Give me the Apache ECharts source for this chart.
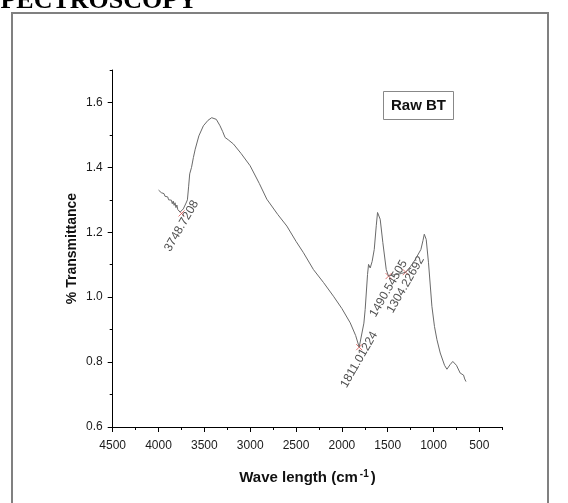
<!DOCTYPE html>
<html>
<head>
<meta charset="utf-8">
<script src="https://cdn.jsdelivr.net/npm/echarts@6/dist/echarts.min.js"></script>
<style>html,body{margin:0;padding:0;background:#fff;}#c{width:568px;height:503px;}</style>
</head>
<body>
<div id="c"></div>
<script>
const wavenumbers = [4000,3990,3980,3970,3960,3950,3940,3930,3920,3910,3900,3890,3880,3870,3860,3850,3840,3830,3820,3810,3800,3790,3780,3765,3749,3730,3700,3685,3672,3660,3640,3620,3600,3560,3511,3460,3420,3400,3370,3329,3300,3274,3240,3183,3100,3001,2900,2819,2700,2600,2500,2419,2310,2200,2092,2000,1909,1850,1811,1790,1760,1746,1720,1709,1700,1691,1670,1647,1625,1611,1595,1582,1553,1516,1491,1450,1400,1350,1304,1250,1200,1138,1115,1101,1090,1080,1055,1018,990,963,927,880,854,820,790,774,750,709,690,673,660,646];
const transmittance = [1.330,1.326,1.328,1.322,1.324,1.316,1.319,1.311,1.314,1.305,1.309,1.300,1.304,1.294,1.299,1.288,1.296,1.283,1.291,1.276,1.284,1.270,1.276,1.262,1.258,1.272,1.290,1.300,1.340,1.380,1.400,1.430,1.456,1.497,1.528,1.545,1.553,1.554,1.548,1.528,1.510,1.492,1.485,1.472,1.443,1.405,1.350,1.302,1.255,1.219,1.172,1.137,1.085,1.045,1.003,0.965,0.921,0.882,0.846,0.850,0.920,0.962,1.070,1.101,1.105,1.090,1.110,1.147,1.220,1.261,1.255,1.240,1.168,1.085,1.065,1.068,1.070,1.073,1.077,1.095,1.116,1.147,1.175,1.194,1.190,1.178,1.106,0.972,0.910,0.869,0.828,0.790,0.778,0.792,0.802,0.805,0.790,0.766,0.770,0.760,0.748,0.740];
const peakWavenumbers = [3748.7208, 1811.01224, 1490.54505, 1304.22692];
const peakTransmittance = [1.258, 0.846, 1.065, 1.077];
const xMajorTicks = [4500,4000,3500,3000,2500,2000,1500,1000,500];
const xMinorTicks = [4250,3750,3250,2750,2250,1750,1250,750,250];
const yMajorTicks = [0.6,0.8,1.0,1.2,1.4,1.6];
const yMinorTicks = [0.7,0.9,1.1,1.3,1.5,1.7];
const sampleName = 'Raw BT';

const lineData = wavenumbers.map((w,i)=>[w, transmittance[i]]);
const peakData = peakWavenumbers.map((w,i)=>[w, peakTransmittance[i]]);

const chart = echarts.init(document.getElementById('c'), null, {renderer:'canvas'});
const font = 'Arial, "Liberation Sans", sans-serif';
chart.setOption({
  animation: false,
  backgroundColor: '#fff',
  grid: {left: 112.7, right: 65.7, top: 70, bottom: 76, containLabel: false},
  title: {
    text: sampleName, left: 383, top: 91,
    padding: [7, 8, 7, 8],
    borderColor: '#888', borderWidth: 1,
    textStyle: {fontFamily: font, fontWeight: 'bold', fontSize: 15, color: '#111'}
  },
  graphic: [
    {type:'rect', shape:{x:12, y:13, width:536, height:520}, style:{fill:'none', stroke:'#808080', lineWidth:2}, silent:true},
    {type:'text', x:-14, y:1, style:{text:'SPECTROSCOPY', font:'bold 26px "Liberation Serif", "Times New Roman", serif', fill:'#000', verticalAlign:'middle'}, silent:true}
  ],
  xAxis: [
    {type:'value', inverse:true, min:250, max:4500,
     name: '{n|Wave length (cm}{s|-1}{n|)}', nameLocation:'middle', nameGap: 42, nameMoveOverlap: false,
     nameTextStyle: {rich: {n:{fontFamily:font, fontWeight:'bold', fontSize:15, color:'#111'}, s:{fontFamily:font, fontWeight:'bold', fontSize:10, color:'#111', verticalAlign:'top', padding:[0,2,7,2]}}},
     axisLine:{show:true, onZero:false, lineStyle:{color:'#000', width:1}},
     axisTick:{show:true, length:5, customValues: xMajorTicks, lineStyle:{color:'#000'}},
     axisLabel:{show:true, customValues: xMajorTicks, margin:13, fontFamily:font, fontSize:12, color:'#1a1a1a', formatter: v => String(v)},
     splitLine:{show:false}},
    {type:'value', inverse:true, min:250, max:4500, position:'bottom',
     axisLine:{show:false},
     axisTick:{show:true, length:3, customValues: xMinorTicks, lineStyle:{color:'#000'}},
     axisLabel:{show:false}, splitLine:{show:false}}
  ],
  yAxis: [
    {type:'value', min:0.6, max:1.7,
     name:'% Transmittance', nameLocation:'middle', nameGap: 34, nameRotate: 90, nameMoveOverlap: false,
     nameTextStyle:{fontFamily:font, fontWeight:'bold', fontSize:14, color:'#111'},
     axisLine:{show:true, onZero:false, lineStyle:{color:'#000', width:1}},
     axisTick:{show:true, length:5, customValues: yMajorTicks, lineStyle:{color:'#000'}},
     axisLabel:{show:true, customValues: yMajorTicks, margin:10, fontFamily:font, fontSize:12, color:'#1a1a1a', formatter: v => v.toFixed(1)},
     splitLine:{show:false}},
    {type:'value', min:0.6, max:1.7, position:'left',
     axisLine:{show:false},
     axisTick:{show:true, length:3, customValues: yMinorTicks, lineStyle:{color:'#000'}},
     axisLabel:{show:false}, splitLine:{show:false}}
  ],
  series: [
    {type:'line', xAxisIndex:0, yAxisIndex:0, data: lineData, showSymbol:false, symbol:'none',
     lineStyle:{color:'#6a6a6a', width:1}, silent:true},
    {type:'scatter', xAxisIndex:0, yAxisIndex:0, data: peakData,
     symbol:'path://M0,0L10,10M10,0L0,10', symbolSize:6,
     itemStyle:{color:'transparent', borderColor:'#d9534f', borderWidth:1},
     label:{show:true, position:'bottom', distance:9, rotate:60, align:'center', verticalAlign:'middle',
       formatter: p => String(p.value[0]), fontFamily:font, fontSize:12, color:'#222'}}
  ]
});
</script>
</body>
</html>
